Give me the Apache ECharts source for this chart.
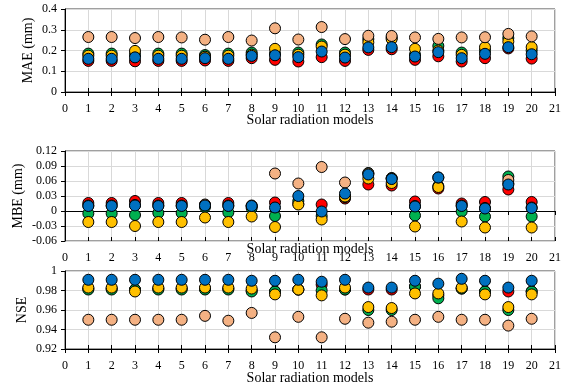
<!DOCTYPE html>
<html><head><meta charset="utf-8">
<script src="https://cdn.jsdelivr.net/npm/echarts@6/dist/echarts.min.js"></script>
<style>html,body{margin:0;padding:0;background:#fff}#c{width:572px;height:388px}</style>
</head><body><div id="c"></div>
<script>
const models = [1,2,3,4,5,6,7,8,9,10,11,12,13,14,15,16,17,18,19,20];
const xTicks = [0,1,2,3,4,5,6,7,8,9,10,11,12,13,14,15,16,17,18,19,20,21];

const maeRed    = [0.150,0.150,0.148,0.150,0.150,0.152,0.150,0.163,0.155,0.147,0.168,0.150,0.203,0.206,0.155,0.172,0.147,0.163,0.210,0.161];
const maeGreen  = [0.185,0.185,0.180,0.185,0.185,0.178,0.185,0.190,0.185,0.190,0.229,0.190,0.255,0.262,0.180,0.222,0.190,0.200,0.260,0.200];
const maeYellow = [0.175,0.175,0.198,0.175,0.175,0.170,0.175,0.180,0.208,0.180,0.219,0.180,0.239,0.255,0.208,0.200,0.179,0.216,0.243,0.216];
const maePeach  = [0.265,0.265,0.260,0.265,0.263,0.252,0.265,0.248,0.307,0.253,0.313,0.255,0.271,0.270,0.263,0.256,0.263,0.264,0.280,0.268];
const maeBlue   = [0.160,0.160,0.167,0.160,0.160,0.163,0.160,0.174,0.177,0.168,0.195,0.166,0.215,0.216,0.171,0.192,0.163,0.184,0.216,0.182];

const mbeRed    = [0.016,0.016,0.020,0.016,0.016,0.012,0.016,0.010,0.017,0.014,0.013,0.025,0.053,0.051,0.019,0.045,0.015,0.018,0.043,0.018];
const mbeGreen  = [-0.005,-0.005,-0.008,-0.004,-0.004,0.008,-0.003,0.006,-0.010,0.020,-0.010,0.028,0.076,0.066,-0.009,0.050,-0.001,-0.011,0.069,-0.011];
const mbeYellow = [-0.022,-0.022,-0.030,-0.022,-0.022,-0.013,-0.022,-0.011,-0.032,0.013,-0.017,0.029,0.065,0.056,-0.031,0.048,-0.021,-0.033,0.055,-0.033];
const mbePeach  = [0.011,0.011,0.012,0.011,0.011,0.013,0.011,0.011,0.075,0.055,0.088,0.057,0.075,0.065,0.010,0.067,0.011,0.006,0.062,0.007];
const mbeBlue   = [0.010,0.010,0.011,0.010,0.010,0.011,0.010,0.010,0.007,0.030,-0.001,0.035,0.073,0.064,0.009,0.067,0.010,0.005,0.053,0.006];

const nseRed    = [0.982,0.982,0.981,0.982,0.982,0.982,0.982,0.980,0.979,0.981,0.986,0.981,0.981,0.981,0.984,0.975,0.982,0.979,0.979,0.979];
const nseGreen  = [0.981,0.981,0.981,0.981,0.981,0.981,0.981,0.979,0.979,0.981,0.980,0.981,0.960,0.960,0.984,0.972,0.982,0.979,0.960,0.979];
const nseYellow = [0.983,0.983,0.979,0.983,0.983,0.983,0.983,0.982,0.976,0.981,0.975,0.983,0.963,0.962,0.977,0.977,0.983,0.976,0.963,0.976];
const nsePeach  = [0.950,0.950,0.950,0.950,0.950,0.954,0.949,0.957,0.932,0.953,0.932,0.951,0.947,0.948,0.950,0.953,0.950,0.950,0.944,0.951];
const nseBlue   = [0.991,0.991,0.991,0.991,0.991,0.991,0.991,0.990,0.990,0.991,0.989,0.991,0.983,0.983,0.990,0.987,0.992,0.990,0.983,0.990];

const colors = ['#FF0000','#00B050','#FFC000','#F4B183','#0070C0'];
const FONT = 'Liberation Serif';

const panels = [
  {name:'MAE (mm)', data:[maeRed,maeGreen,maeYellow,maePeach,maeBlue], min:0, max:0.4, interval:0.1, top:9, height:83, nameGap:30, xNameGap:21},
  {name:'MBE (mm)', data:[mbeRed,mbeGreen,mbeYellow,mbePeach,mbeBlue], min:-0.06, max:0.12, interval:0.03, top:151, height:90, nameGap:40, xNameGap:1},
  {name:'NSE', data:[nseRed,nseGreen,nseYellow,nsePeach,nseBlue], min:0.92, max:1, interval:0.02, top:271, height:78, nameGap:36, xNameGap:22}
];
const fmt = v => String(+v.toFixed(2));

const grid=[], xAxis=[], yAxis=[], series=[];
panels.forEach((p,i)=>{
  grid.push({left:65, right:17, top:p.top, height:p.height, show:true, borderColor:'#404040', borderWidth:1, containLabel:false});
  xAxis.push({type:'value', gridIndex:i, min:xTicks[0], max:xTicks[xTicks.length-1], interval:1, position:'bottom',
    axisLine:{show:true, onZero:true, lineStyle:{color:'#000', width:1}},
    axisTick:{show:true, length:4, lineStyle:{color:'#000'}},
    axisLabel:{show:true, margin:11, color:'#000', fontFamily:FONT, fontSize:12},
    splitLine:{show:true, lineStyle:{color:'#d9d9d9', width:1}},
    name:'Solar radiation models', nameLocation:'middle', nameGap:p.xNameGap, nameMoveOverlap:false,
    nameTextStyle:{color:'#000', fontFamily:FONT, fontSize:14}
  });
  xAxis.push({type:'value', gridIndex:i, min:xTicks[0], max:xTicks[xTicks.length-1], interval:1, position:'bottom',
    axisLine:{show:false, onZero:true},
    axisTick:{show:true, inside:true, length:4, lineStyle:{color:'#000'}},
    axisLabel:{show:false}, splitLine:{show:false}
  });
  yAxis.push({type:'value', gridIndex:i, min:p.min, max:p.max, interval:p.interval,
    axisLine:{show:true, lineStyle:{color:'#000'}},
    axisTick:{show:true, length:4, lineStyle:{color:'#000'}},
    axisLabel:{color:'#000', fontFamily:FONT, fontSize:12, margin:8, formatter:fmt},
    splitLine:{show:true, lineStyle:{color:'#d9d9d9'}},
    name:p.name, nameLocation:'middle', nameGap:p.nameGap, nameMoveOverlap:false,
    nameTextStyle:{color:'#000', fontFamily:FONT, fontSize:14}
  });
  p.data.forEach((arr,k)=>{
    series.push({type:'scatter', xAxisIndex:i*2, yAxisIndex:i, symbol:'circle', symbolSize:11,
      data: models.map((m,j)=>[m, arr[j]]),
      itemStyle:{color:colors[k], borderColor:'#000', borderWidth:1, opacity:1},
      z:2+k, silent:true, animation:false});
  });
});

const chart = echarts.init(document.getElementById('c'), null, {renderer:'canvas'});
chart.setOption({animation:false, backgroundColor:'#fff', grid, xAxis, yAxis, series});
</script></body></html>
